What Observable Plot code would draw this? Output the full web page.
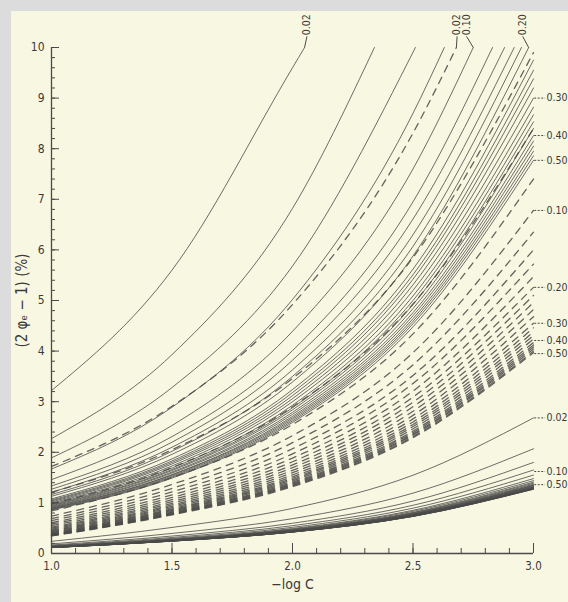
<!DOCTYPE html>
<html><head><meta charset="utf-8">
<script src="https://cdn.jsdelivr.net/npm/d3@7"></script>
<script src="https://cdn.jsdelivr.net/npm/@observablehq/plot@0.6"></script>
<style>
html,body{margin:0;padding:0;background:#dcdcdc;width:568px;height:602px;overflow:hidden}
#paper{position:absolute;left:11px;top:11px;width:557px;height:591px;background:#f8f7e2}
#chart{position:absolute;left:0;top:0}
</style></head><body><div id="paper"></div><div id="chart"></div>
<script>
// x positions (−log C) at which each curve was read
const xGrid = [1.0, 1.5, 2.0, 2.5, 3.0];
// curve parameter for each row of the three families
const params = [0.02,0.04,0.06,0.08,0.10,0.12,0.14,0.16,0.18,0.20,0.22,0.24,0.26,0.28,0.30,0.32,0.34,0.36,0.38,0.40,0.42,0.44,0.46,0.48,0.50];

// upper solid family (null = beyond 10 %)
const upperSolid = [
  [3.22,5.60,9.60,null,null],[2.27,3.93,6.82,null,null],[1.89,3.28,5.68,null,null],
  [1.67,2.89,5.02,8.70,null],[1.46,2.53,4.39,7.60,null],[1.335,2.31,4.01,6.95,null],
  [1.27,2.20,3.82,6.61,null],[1.21,2.10,3.63,6.30,null],[1.165,2.02,3.50,6.07,null],
  [1.13,1.96,3.39,5.88,null],[1.08,1.87,3.24,5.62,9.75],[1.058,1.83,3.18,5.51,9.55],
  [1.04,1.80,3.12,5.42,9.38],[1.02,1.77,3.06,5.31,9.20],[1.00,1.73,3.00,5.20,9.00],
  [0.977,1.69,2.93,5.09,8.82],[0.96,1.66,2.88,5.00,8.67],[0.945,1.64,2.84,4.92,8.53],
  [0.93,1.61,2.79,4.84,8.40],[0.915,1.59,2.75,4.76,8.26],[0.903,1.56,2.71,4.70,8.15],
  [0.892,1.55,2.68,4.64,8.05],[0.881,1.53,2.65,4.59,7.95],[0.871,1.51,2.62,4.54,7.86],
  [0.861,1.49,2.59,4.48,7.77]
];
// −log C where an upper solid curve leaves the top (10 %)
const upperSolidTop = [2.05,2.34,2.51,2.63,2.75,2.83,2.88,2.92,2.95,2.98,null,null,null,null,null,null,null,null,null,null,null,null,null,null,null];

// middle dashed family
const middleDashed = [
  [1.72,2.91,4.92,8.31,null],[1.21,2.05,3.46,5.85,9.90],[0.98,1.70,2.90,4.93,8.40],
  [0.84,1.50,2.55,4.34,7.40],[0.74,1.365,2.33,3.97,6.78],[0.69,1.286,2.19,3.73,6.35],
  [0.65,1.217,2.07,3.52,6.00],[0.61,1.158,1.97,3.36,5.72],[0.58,1.107,1.886,3.21,5.47],
  [0.55,1.064,1.813,3.09,5.26],[0.52,1.025,1.75,2.99,5.10],[0.50,0.992,1.696,2.90,4.96],
  [0.48,0.959,1.643,2.81,4.82],[0.46,0.933,1.597,2.73,4.68],[0.445,0.907,1.553,2.66,4.55],
  [0.43,0.883,1.516,2.60,4.46],[0.415,0.866,1.487,2.55,4.38],[0.40,0.850,1.461,2.51,4.31],
  [0.39,0.834,1.434,2.465,4.24],[0.38,0.818,1.407,2.42,4.17],[0.37,0.806,1.388,2.39,4.12],
  [0.36,0.794,1.370,2.36,4.08],[0.355,0.783,1.353,2.34,4.04],[0.35,0.773,1.337,2.31,4.00],
  [0.345,0.763,1.321,2.29,3.97]
];
const middleDashedTop = [2.68,null,null,null,null,null,null,null,null,null,null,null,null,null,null,null,null,null,null,null,null,null,null,null,null];

// lower solid family
const lowerSolid = [
  [0.24,0.515,0.892,1.547,2.68],[0.19,0.397,0.688,1.193,2.07],[0.168,0.345,0.598,1.036,1.80],
  [0.155,0.317,0.550,0.953,1.65],[0.146,0.298,0.517,0.896,1.55],[0.140,0.284,0.493,0.854,1.48],
  [0.136,0.277,0.481,0.833,1.44],[0.133,0.270,0.469,0.812,1.41],[0.131,0.267,0.463,0.802,1.39],
  [0.129,0.263,0.457,0.791,1.37],[0.127,0.260,0.451,0.781,1.355],[0.126,0.258,0.447,0.776,1.345],
  [0.125,0.256,0.444,0.770,1.335],[0.124,0.254,0.441,0.764,1.325],[0.123,0.253,0.438,0.758,1.315],
  [0.122,0.252,0.436,0.755,1.31],[0.121,0.250,0.433,0.750,1.30],[0.120,0.249,0.431,0.747,1.295],
  [0.1195,0.248,0.429,0.744,1.29],[0.119,0.247,0.428,0.741,1.285],[0.1185,0.246,0.426,0.738,1.28],
  [0.118,0.245,0.425,0.737,1.278],[0.1175,0.245,0.424,0.735,1.275],[0.117,0.244,0.424,0.734,1.272],
  [0.1165,0.244,0.423,0.732,1.27]
];

// axis ticks and labels
const yMajor = [0,1,2,3,4,5,6,7,8,9,10];
const xMajor = [1.0,1.5,2.0,2.5,3.0];
const xTickLabels = ["1.0","1.5","2.0","2.5","3.0"];
const yMinor = d3.range(0, 10.001, 0.2);
const xMinor = d3.range(1, 3.001, 0.1);

// curve annotations
const rightLabelText = ["0.30","0.40","0.50","0.10","0.20","0.30","0.40","0.50","0.02","0.10","0.50"];
const rightLabelY = [9.0,8.26,7.77,6.78,5.26,4.55,4.21,3.95,2.68,1.62,1.36];
const topLabelText = ["0.02","0.02","0.10","0.20"];
const topLabelX = [2.06,2.683,2.722,2.955];
const topCurveX = [2.05,2.68,2.75,2.98];

function toPoints(rows, tops) {
  const pts = [];
  rows.forEach((row, i) => {
    row.forEach((v, j) => { if (v != null) pts.push({p: params[i], x: xGrid[j], y: v}); });
    if (tops && tops[i] != null) pts.push({p: params[i], x: tops[i], y: 10});
  });
  return pts;
}
const solidUp = toPoints(upperSolid, upperSolidTop);
const dashedMid = toPoints(middleDashed, middleDashedTop);
const solidLow = toPoints(lowerSolid, null);

const ink = "#4a4a48";
const txt = "#3a3a38";
const rightLabels = rightLabelText.map((t, i) => ({t, y: rightLabelY[i]}));
const topLabels = topLabelText.map((t, i) => ({t, x: topLabelX[i], cx: topCurveX[i]}));

const chart = Plot.plot({
  width: 568, height: 602,
  marginLeft: 51, marginRight: 35, marginTop: 47, marginBottom: 49,
  x: {domain: [1, 3], label: null},
  y: {domain: [0, 10], label: null},
  style: {background: "transparent", color: txt, fontSize: "12px",
          fontFamily: "'DejaVu Sans Condensed','Liberation Sans Narrow','DejaVu Sans',sans-serif"},
  marks: [
    Plot.axisY(yMinor, {tickSize: -4, tickFormat: () => "", stroke: ink}),
    Plot.axisY(yMajor, {tickSize: -8, tickFormat: () => "", stroke: ink}),
    Plot.axisY(yMajor, {tickSize: 0, tickPadding: 7, fontSize: 12, tickFormat: d => String(d)}),
    Plot.axisX(xMinor, {tickSize: -5, tickFormat: () => "", stroke: ink}),
    Plot.axisX(xMajor, {tickSize: -10, tickFormat: () => "", stroke: ink}),
    Plot.axisX(xMajor, {tickSize: 0, tickPadding: 8, fontSize: 11.5, tickFormat: (d, i) => xTickLabels[i]}),
    Plot.ruleX([1], {y1: 0, y2: 10, stroke: ink, strokeWidth: 1.3}),
    Plot.ruleY([0], {x1: 1, x2: 3, stroke: ink, strokeWidth: 1.3}),
    Plot.line(dashedMid, {x: "x", y: "y", z: "p", curve: "monotone-x", stroke: ink, strokeWidth: 1.3, strokeDasharray: "7,6", strokeOpacity: 0.85}),
    Plot.line(solidUp, {x: "x", y: "y", z: "p", curve: "monotone-x", stroke: ink, strokeWidth: 1, strokeOpacity: 0.8}),
    Plot.line(solidLow, {x: "x", y: "y", z: "p", curve: "monotone-x", stroke: ink, strokeWidth: 1, strokeOpacity: 0.8}),
    Plot.ruleY(rightLabels, {y: "y", x1: 3.005, x2: 3.05, stroke: ink, strokeWidth: 1, strokeDasharray: "2,1.5"}),
    Plot.text(rightLabels, {x: 3, y: "y", text: "t", dx: 13, textAnchor: "start", fontSize: 10.5, fill: txt}),
    Plot.link(topLabels, {x1: "x", y1: 10.22, x2: "cx", y2: 10, stroke: ink, strokeWidth: 1}),
    Plot.text(topLabels, {x: "x", y: 10.22, text: "t", rotate: -90, textAnchor: "start", dy: -1, fontSize: 10.5, fill: txt}),
    Plot.text(["(2 φₑ − 1) (%)"], {x: 1, y: 5, rotate: -90, textAnchor: "middle", dx: -29, fontSize: 15, fill: txt}),
    Plot.text(["−log C"], {x: 2, y: 0, dy: 31, textAnchor: "middle", fontSize: 14, fill: txt})
  ]
});
document.getElementById("chart").appendChild(chart);
</script>
</body></html>
